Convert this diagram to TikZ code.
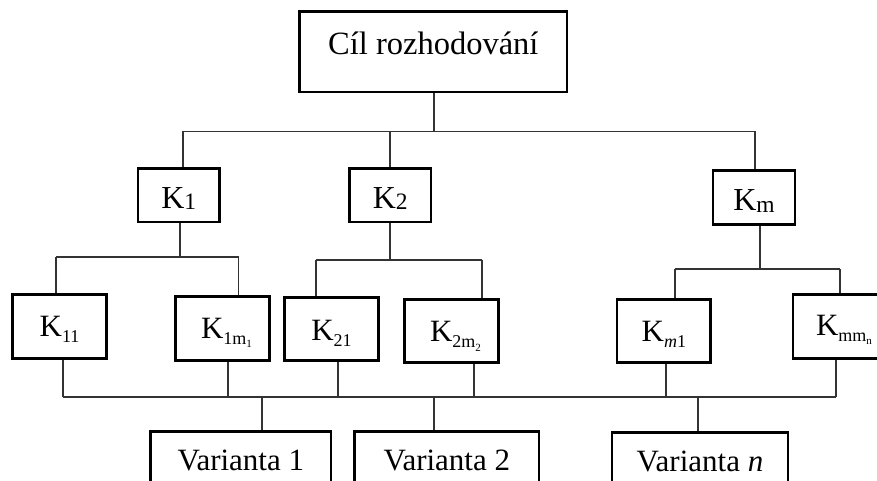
\documentclass[tikz,border=0pt]{standalone}
\usepackage{fontspec}
\setmainfont{Liberation Serif}
\newcommand{\bl}[2]{\smash{\raisebox{#1}{#2}}}
\newcommand{\subA}[1]{\raisebox{-1.5pt}{\fontsize{23.5}{23.5}\selectfont #1}}
\newcommand{\subB}[1]{\raisebox{-6pt}{\fontsize{18}{18}\selectfont #1}}
\newcommand{\subC}[1]{\raisebox{-3.5pt}{\fontsize{11}{11}\selectfont #1}}
\begin{document}
\begin{tikzpicture}[x=1pt,y=-1pt,
  box/.style={draw=black, line width=2.6pt, inner sep=0pt, font=\fontsize{31}{31}\selectfont},
  kbox/.style={box, font=\fontsize{32}{32}\selectfont},
  conn/.style={draw=black!80, line width=1.3pt}]
\useasboundingbox (0,0) rectangle (877,481);
\clip (0,0) rectangle (877,481);
% boxes
\node[box, minimum width=267.5pt, minimum height=80.5pt, font=\fontsize{32.5}{32.5}\selectfont] (goal) at (433.3,51.8) {\bl{-3.2pt}{Cíl rozhodování}};
\node[kbox, minimum width=81.5pt, minimum height=53.5pt] (k1) at (178.8,195.3) {\bl{-13pt}{K\subA{1}}};
\node[kbox, minimum width=81.5pt, minimum height=53.5pt] (k2) at (390.3,195.3) {\bl{-13pt}{K\subA{2}}};
\node[kbox, minimum width=82pt, minimum height=54pt] (km) at (754,197.5) {\bl{-13.2pt}{K\subA{m}}};
\node[box, minimum width=94pt, minimum height=64pt] (k11) at (59.5,326.5) {\bl{-9.5pt}{K\subB{11}}};
\node[box, minimum width=94pt, minimum height=64pt] (k1m) at (222.5,328.5) {\bl{-9.8pt}{\hspace*{8pt}K\subB{1m\subC{1}}}};
\node[box, minimum width=94pt, minimum height=63pt] (k21) at (331.5,329) {\bl{-11pt}{K\subB{21}}};
\node[box, minimum width=94pt, minimum height=63pt] (k2m) at (451.5,331) {\bl{-10.7pt}{\hspace*{8pt}K\subB{2m\subC{2}}}};
\node[box, minimum width=93.5pt, minimum height=63pt] (km1) at (663.8,331) {\bl{-10.7pt}{K\subB{\textit{m}1}}};
\node[box, minimum width=94pt, minimum height=64pt] (kmm) at (840,326.5) {\bl{-8.5pt}{\hspace*{8pt}K\subB{mm\subC{n}}}};
\node[box, minimum width=180.5pt, minimum height=58.5pt] (v1) at (240.8,460.8) {\bl{-9.2pt}{Varianta 1}};
\node[box, minimum width=184.5pt, minimum height=58.5pt] (v2) at (446.8,460.8) {\bl{-9.2pt}{Varianta 2}};
\node[box, minimum width=176pt, minimum height=58pt] (vn) at (700,461.3) {\bl{-10.4pt}{Varianta \textit{n}}};
% junction coordinates
\coordinate (g0) at (434,131.5);
\coordinate (a1) at (183,131.5);
\coordinate (a2) at (390,131.5);
\coordinate (am) at (755,131.5);
\coordinate (b1) at (180,257);
\coordinate (b11) at (56,257);
\coordinate (b1m) at (238.5,257);
\coordinate (b2) at (390,260);
\coordinate (b21) at (316,260);
\coordinate (b2m) at (482,260);
\coordinate (bm) at (760,269);
\coordinate (bm1) at (675,269);
\coordinate (bmm) at (840,269);
\coordinate (c11) at (63,397);
\coordinate (c1m) at (228,397);
\coordinate (c21) at (338,397);
\coordinate (c2m) at (474,397);
\coordinate (cm1) at (666,397);
\coordinate (cmm) at (836,397);
\coordinate (cv1) at (262,397);
\coordinate (cv2) at (434,397);
\coordinate (cvn) at (698,397);
% level 1
\draw[conn] (g0 |- goal.south) -- (g0);
\draw[conn] (a1) -- (am);
\draw[conn] (a1) -- (a1 |- k1.north);
\draw[conn] (a2) -- (a2 |- k2.north);
\draw[conn] (am) -- (am |- km.north);
% level 2
\draw[conn] (b1 |- k1.south) -- (b1);
\draw[conn] (b11) -- (b1m);
\draw[conn] (b11) -- (b11 |- k11.north);
\draw[conn] (b1m) -- (b1m |- k1m.north);
\draw[conn] (b2 |- k2.south) -- (b2);
\draw[conn] (b21) -- (b2m);
\draw[conn] (b21) -- (b21 |- k21.north);
\draw[conn] (b2m) -- (b2m |- k2m.north);
\draw[conn] (bm |- km.south) -- (bm);
\draw[conn] (bm1) -- (bmm);
\draw[conn] (bm1) -- (bm1 |- km1.north);
\draw[conn] (bmm) -- (bmm |- kmm.north);
% level 3
\draw[conn] (c11) -- (cmm);
\draw[conn] (c11 |- k11.south) -- (c11);
\draw[conn] (c1m |- k1m.south) -- (c1m);
\draw[conn] (c21 |- k21.south) -- (c21);
\draw[conn] (c2m |- k2m.south) -- (c2m);
\draw[conn] (cm1 |- km1.south) -- (cm1);
\draw[conn] (cmm |- kmm.south) -- (cmm);
\draw[conn] (cv1) -- (cv1 |- v1.north);
\draw[conn] (cv2) -- (cv2 |- v2.north);
\draw[conn] (cvn) -- (cvn |- vn.north);
\end{tikzpicture}
\end{document}
